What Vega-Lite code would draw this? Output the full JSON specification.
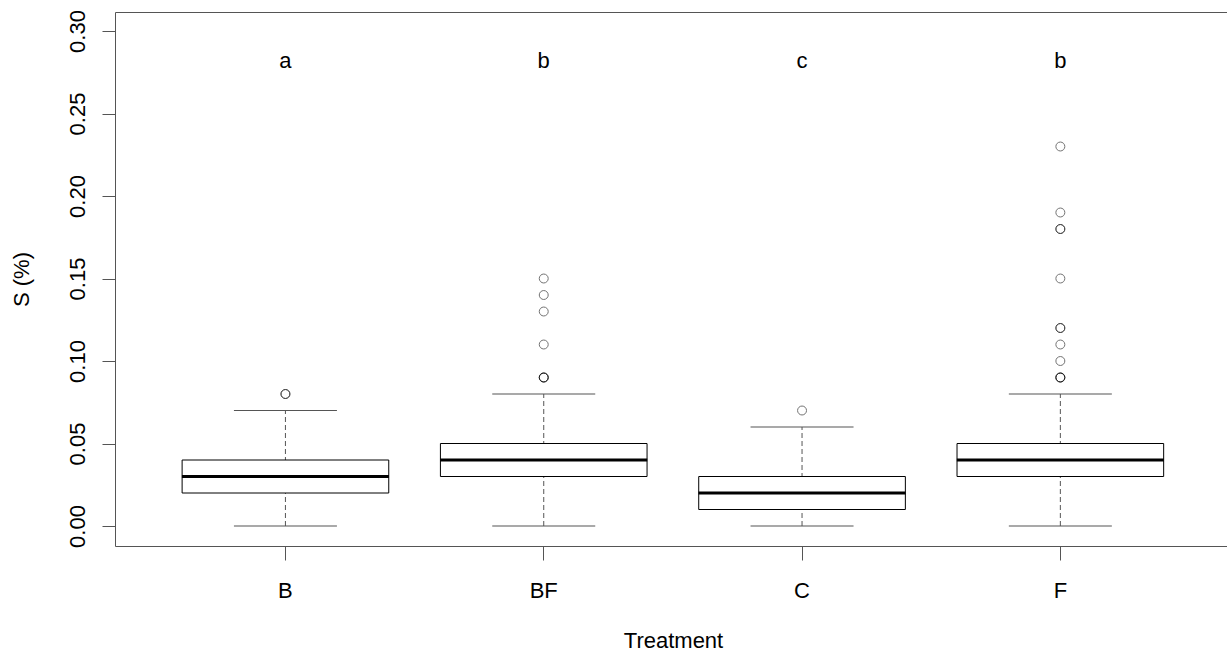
{
  "$schema": "https://vega.github.io/schema/vega-lite/v6.json",
  "autosize": {"type": "none"},
  "padding": {"left": 115, "top": 12, "right": 0, "bottom": 105},
  "width": 1112,
  "height": 534,
  "background": "white",
  "config": {
    "view": {"stroke": null},
    "font": "Liberation Sans",
    "axis": {"grid": false, "domain": true, "domainColor": "#555555", "domainWidth": 1, "labelFont": "Liberation Sans", "titleFont": "Liberation Sans", "labelFontSize": 22, "titleFontSize": 22, "labelColor": "black", "titleColor": "black", "titleFontWeight": "normal", "tickColor": "#555555", "tickSize": 13}
  },
  "datasets": {
    "boxes": [
      {"Treatment": "B", "lower": 0.0, "q1": 0.02, "median": 0.03, "q3": 0.04, "upper": 0.07},
      {"Treatment": "BF", "lower": 0.0, "q1": 0.03, "median": 0.04, "q3": 0.05, "upper": 0.08},
      {"Treatment": "C", "lower": 0.0, "q1": 0.01, "median": 0.02, "q3": 0.03, "upper": 0.06},
      {"Treatment": "F", "lower": 0.0, "q1": 0.03, "median": 0.04, "q3": 0.05, "upper": 0.08}
    ],
    "outliers": [
      {"Treatment": "B", "value": 0.08},
      {"Treatment": "B", "value": 0.08},
      {"Treatment": "BF", "value": 0.09},
      {"Treatment": "BF", "value": 0.09},
      {"Treatment": "BF", "value": 0.09},
      {"Treatment": "BF", "value": 0.11},
      {"Treatment": "BF", "value": 0.13},
      {"Treatment": "BF", "value": 0.14},
      {"Treatment": "BF", "value": 0.15},
      {"Treatment": "C", "value": 0.07},
      {"Treatment": "F", "value": 0.09},
      {"Treatment": "F", "value": 0.09},
      {"Treatment": "F", "value": 0.09},
      {"Treatment": "F", "value": 0.10},
      {"Treatment": "F", "value": 0.11},
      {"Treatment": "F", "value": 0.12},
      {"Treatment": "F", "value": 0.12},
      {"Treatment": "F", "value": 0.15},
      {"Treatment": "F", "value": 0.18},
      {"Treatment": "F", "value": 0.18},
      {"Treatment": "F", "value": 0.19},
      {"Treatment": "F", "value": 0.23}
    ],
    "letters": [
      {"Treatment": "B", "letter": "a", "y": 0.28},
      {"Treatment": "BF", "letter": "b", "y": 0.28},
      {"Treatment": "C", "letter": "c", "y": 0.28},
      {"Treatment": "F", "letter": "b", "y": 0.28}
    ]
  },
  "resolve": {"axis": {"x": "independent"}},
  "layer": [
    {
      "encoding": {
        "x": {
          "field": "Treatment", "type": "nominal",
          "scale": {"type": "band", "domain": ["B", "BF", "C", "F"], "paddingInner": 0, "paddingOuter": 0.1525, "align": 0.524},
          "axis": {"orient": "bottom", "labelAngle": 0, "labelBaseline": "alphabetic", "labelPadding": 37, "tickSize": 14, "title": "Treatment", "titleBaseline": "alphabetic", "titleY": 101, "titleX": 558, "titleAnchor": "middle"}
        }
      },
      "layer": [
        {
          "data": {"name": "boxes"},
          "mark": {"type": "rule", "strokeDash": [5, 3], "color": "#555555", "strokeWidth": 1},
          "encoding": {
            "y": {
              "field": "lower", "type": "quantitative",
              "scale": {"domain": [-0.01212, 0.31152], "nice": false, "zero": false},
              "axis": {"values": [0, 0.05, 0.1, 0.15, 0.2, 0.25, 0.3], "format": ".2f", "labelAngle": -90, "labelAlign": "center", "labelBaseline": "alphabetic", "labelPadding": 18, "title": "S (%)", "titleAngle": -90, "titleAlign": "center", "titleBaseline": "alphabetic", "titleX": -87, "titleY": 267}
            },
            "y2": {"field": "upper"}
          }
        },
        {
          "data": {"name": "boxes"},
          "mark": {"type": "bar", "width": {"band": 0.8}, "fill": "white", "stroke": "black", "strokeWidth": 1, "opacity": 1},
          "encoding": {
            "y": {"field": "q1", "type": "quantitative"},
            "y2": {"field": "q3"}
          }
        },
        {
          "data": {"name": "boxes"},
          "mark": {"type": "tick", "size": 207, "thickness": 3, "color": "black", "opacity": 1},
          "encoding": {"y": {"field": "median", "type": "quantitative"}}
        },
        {
          "data": {"name": "boxes"},
          "mark": {"type": "tick", "size": 103, "thickness": 1, "color": "#555555", "opacity": 1},
          "encoding": {"y": {"field": "lower", "type": "quantitative"}}
        },
        {
          "data": {"name": "boxes"},
          "mark": {"type": "tick", "size": 103, "thickness": 1, "color": "#555555", "opacity": 1},
          "encoding": {"y": {"field": "upper", "type": "quantitative"}}
        },
        {
          "data": {"name": "outliers"},
          "mark": {"type": "point", "shape": "circle", "filled": false, "size": 80, "color": "black", "strokeWidth": 1, "opacity": 0.55},
          "encoding": {"y": {"field": "value", "type": "quantitative"}}
        },
        {
          "data": {"name": "letters"},
          "mark": {"type": "text", "fontSize": 22, "font": "Liberation Sans", "color": "black", "baseline": "alphabetic", "dy": 4},
          "encoding": {
            "y": {"field": "y", "type": "quantitative"},
            "text": {"field": "letter"}
          }
        }
      ]
    },
    {
      "data": {"name": "boxes"},
      "mark": {"type": "rule", "opacity": 0},
      "encoding": {
        "x": {"field": "Treatment", "type": "nominal", "axis": {"orient": "top", "labels": false, "ticks": false, "title": null, "domain": true}},
        "y": {"field": "lower", "type": "quantitative"},
        "y2": {"field": "upper"}
      }
    }
  ]
}
